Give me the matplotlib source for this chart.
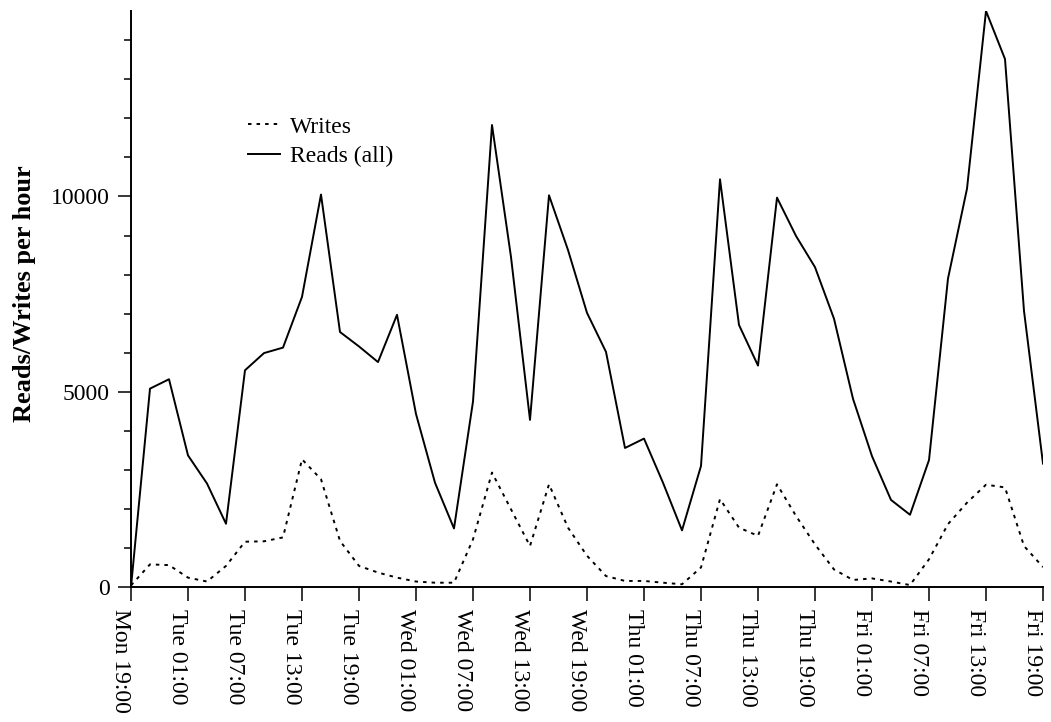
import matplotlib
matplotlib.use("Agg")
import matplotlib.pyplot as plt
from matplotlib.ticker import MultipleLocator
import numpy as np

plt.rcParams['font.family'] = ['Liberation Serif', 'DejaVu Serif']

# hourly rates, sampled every 2 hours starting Mon 19:00
reads = [0, 5080, 5320, 3370, 2650, 1620, 5550, 5990, 6130, 7430, 10050,
         6530, 6160, 5760, 6970, 4430, 2670, 1500, 4750, 11830, 8450, 4280,
         10030, 8630, 7020, 6020, 3560, 3800, 2670, 1450, 3100, 10440, 6710,
         5670, 9970, 8990, 8190, 6870, 4820, 3350, 2230, 1850, 3250, 7900,
         10200, 14750, 13520, 7070, 3160]
writes = [40, 580, 560, 240, 140, 540, 1160, 1170, 1270, 3270, 2760, 1180,
          540, 370, 240, 140, 110, 110, 1220, 2930, 1990, 1050, 2630, 1520,
          800, 280, 155, 155, 110, 70, 500, 2250, 1520, 1310, 2630, 1820,
          1090, 450, 180, 220, 140, 50, 710, 1610, 2160, 2620, 2550, 1050, 510]
tick_labels = ['Mon 19:00', 'Tue 01:00', 'Tue 07:00', 'Tue 13:00', 'Tue 19:00',
               'Wed 01:00', 'Wed 07:00', 'Wed 13:00', 'Wed 19:00',
               'Thu 01:00', 'Thu 07:00', 'Thu 13:00', 'Thu 19:00',
               'Fri 01:00', 'Fri 07:00', 'Fri 13:00', 'Fri 19:00']

hours = np.arange(len(reads)) * 2
tick_pos = np.arange(len(tick_labels)) * 6

fig = plt.figure(figsize=(10.51, 7.22), dpi=100)
ax = fig.add_axes([131 / 1051, 135 / 722, 912 / 1051, 576 / 722])

ax.plot(hours, writes, color='black', lw=1.4, linestyle=(0, (1.8, 2.6)),
        label='Writes')
ax.plot(hours, reads, color='black', lw=1.4, label='Reads (all)')

ax.set_xlim(0, hours[-1])
ax.set_ylim(0, max(reads))

# labels read downwards, sitting just left of their tick
ax.set_xticks(tick_pos)
ax.set_xticklabels(tick_labels, rotation=270, fontsize=17,
                   rotation_mode='anchor', ha='left', va='top')
ax.set_yticks([0, 5000, 10000])
ax.yaxis.set_minor_locator(MultipleLocator(1000))
ax.tick_params(axis='y', which='major', length=9.5, width=1.1, labelsize=17, pad=6)
ax.tick_params(axis='y', which='minor', length=5, width=1.1)
ax.tick_params(axis='x', length=10, width=1.1, pad=6)

for side in ['top', 'right']:
    ax.spines[side].set_visible(False)
for side in ['left', 'bottom']:
    ax.spines[side].set_linewidth(1.4)

ax.set_ylabel('Reads/Writes per hour', fontsize=19, fontweight='bold')
ax.yaxis.set_label_coords(-0.104, 0.51)

ax.legend(loc='upper left', bbox_to_anchor=(0.115, 0.838), frameon=False,
          fontsize=17, handlelength=1.35, handletextpad=0.45,
          labelspacing=0.35, borderpad=0)

fig.savefig('out.png', dpi=100)
